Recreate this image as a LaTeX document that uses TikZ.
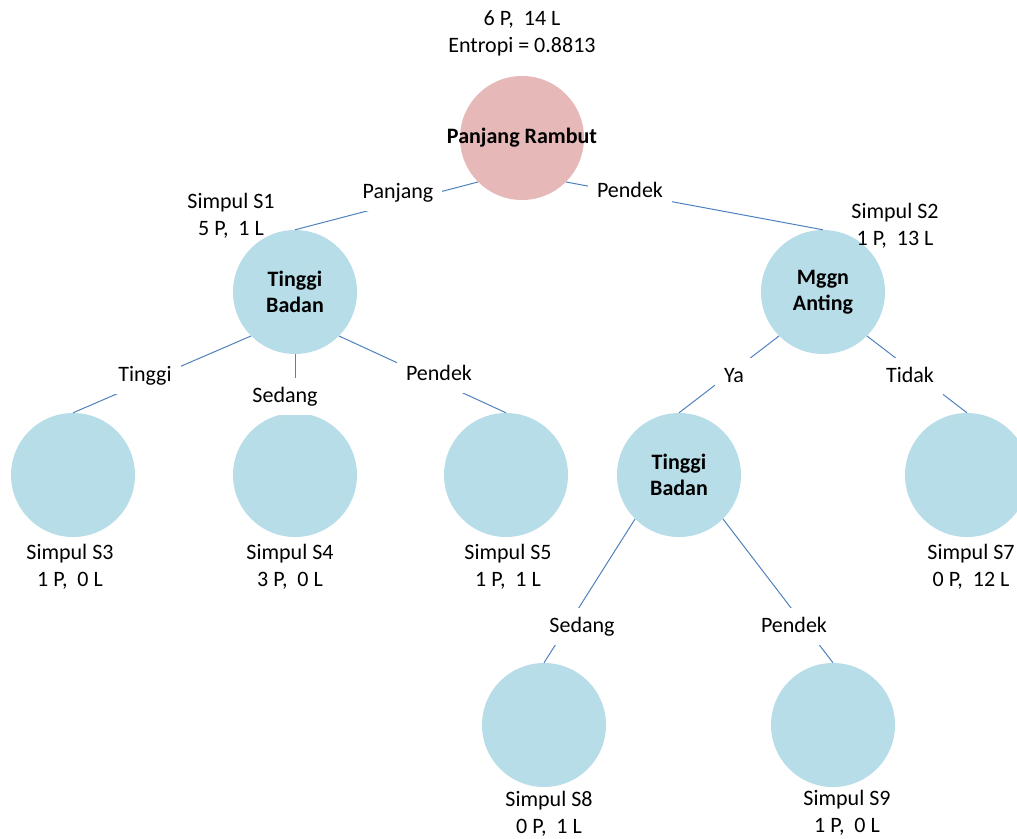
\documentclass[tikz,border=0pt]{standalone}
\usepackage{fontspec}
\setmainfont{Carlito}
\usepackage{xcolor}
\usepackage{tikz}
\usetikzlibrary{positioning}

\definecolor{rootpink}{RGB}{230,184,183}
\definecolor{leafblue}{RGB}{183,221,232}
\definecolor{linkblue}{RGB}{79,129,189}

\begin{document}
\begin{tikzpicture}[x=1pt, y=-1pt, font=\fontsize{22}{27}\selectfont,
    attr/.style={circle, fill=leafblue, minimum size=124pt, inner sep=0pt},
    attrname/.style={font=\fontsize{22}{26}\selectfont\bfseries, align=center},
    branch/.style={draw=linkblue, line width=1pt},
    cond/.style={fill=white, inner xsep=9pt, inner ysep=5pt, anchor=base},
    info/.style={align=center, anchor=base}]

    \useasboundingbox (0,0) rectangle (1017,838);
    \clip (0,0) rectangle (1017,838);

    \node[attr, fill=rootpink, label={[attrname]center:Panjang Rambut}] (root) at (522,138) {};
    \node[attr, label={[attrname]center:Tinggi\\Badan}] (tinggi1) at (295,292) {};
    \node[attr, label={[attrname]center:Mggn\\Anting}] (anting) at (823,292) {};

    \node[attr] (s3) at (73,475) {};
    \node[attr] (s4) at (295,475) {};
    \node[attr] (s5) at (506,475) {};
    \node[attr, label={[attrname]center:Tinggi\\Badan}] (tinggi2) at (679,475) {};
    \node[attr] (s7) at (967,475) {};
    \node[attr] (s8) at (544,725) {};
    \node[attr] (s9) at (833,725) {};

    \draw[branch] (root.south west) -- (tinggi1.north);
    \draw[branch] (root.south east) -- (anting.north);
    \draw[branch] (tinggi1.south west) -- (s3.north);
    \draw[branch] (tinggi1.south) -- (s4.north);
    \draw[branch] (tinggi1.south east) -- (s5.north);
    \draw[branch] (anting.south west) -- (tinggi2.north);
    \draw[branch] (anting.south east) -- (s7.north);
    \draw[branch] (tinggi2.south west) -- (s8.north);
    \draw[branch] (tinggi2.south east) -- (s9.north);

    \node[cond] (lpanjang) at (398,198) {\strut Panjang};
    \node[cond] (lpendek1) at (630,197) {\strut Pendek};
    \node[cond] (ltinggi) at (145,381) {\strut Tinggi};
    \node[cond] (lsedang1) at (285,402) {\strut Sedang};
    \node[cond] (lpendek2) at (439,380) {\strut Pendek};
    \node[cond] (lya) at (734,382) {\strut Ya};
    \node[cond] (ltidak) at (910,382) {\strut Tidak};
    \node[cond] (lsedang2) at (582,632) {\strut Sedang};
    \node[cond] (lpendek3) at (794,632) {\strut Pendek};

    \node[info] (iroot) at (522,52) {6 P,~~14 L\\Entropi = 0.8813};
    \node[info] (is1) at (231,235) {Simpul S1\\5 P,~~1 L};
    \node[info] (is2) at (895,245) {Simpul S2\\1 P,~~13 L};
    \node[info] (is3) at (70,586) {Simpul S3\\1 P,~~0 L};
    \node[info] (is4) at (290,586) {Simpul S4\\3 P,~~0 L};
    \node[info] (is5) at (508,586) {Simpul S5\\1 P,~~1 L};
    \node[info] (is7) at (971,586) {Simpul S7\\0 P,~~12 L};
    \node[info] (is8) at (549,833) {Simpul S8\\0 P,~~1 L};
    \node[info] (is9) at (847,832) {Simpul S9\\1 P,~~0 L};
\end{tikzpicture}
\end{document}
